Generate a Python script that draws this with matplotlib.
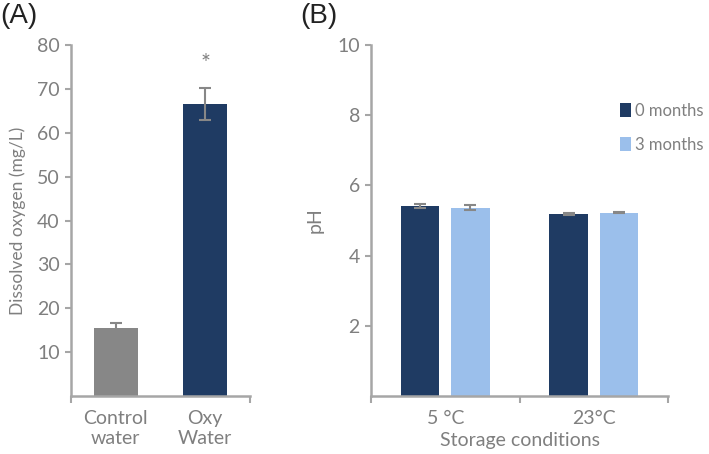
import numpy as np
import matplotlib
matplotlib.use("Agg")
import matplotlib.pyplot as plt
from matplotlib.patches import Patch

plt.rcParams["font.family"] = ["Lato", "DejaVu Sans"]

# panel A
A_LABELS = ["Control\nwater", "Oxy\nWater"]
A_VALUES = [15.5, 66.6]
A_ERRORS = [1.1, 3.6]

# panel B
B_LABELS = ["5 °C", "23°C"]
B_SERIES = ["0 months", "3 months"]
B_VALUES = [[5.42, 5.19], [5.37, 5.22]]
B_ERRORS = [[0.06, 0.02], [0.08, 0.02]]

TXT = "#7f7f7f"
AXC = "#a6a6a6"
DARK = "#1f3b63"
LIGHT = "#9bbfeb"
GREY = "#878787"
FS = 14


def style(ax):
    for s in ("top", "right"):
        ax.spines[s].set_visible(False)
    for s in ("left", "bottom"):
        ax.spines[s].set_color(AXC)
        ax.spines[s].set_linewidth(1.8)
    ax.tick_params(axis="y", colors=AXC, labelcolor=TXT, labelsize=FS,
                   length=4, width=1.5, direction="out", pad=4)
    ax.tick_params(axis="x", which="major", length=0, labelcolor=TXT, labelsize=FS, pad=10)
    ax.tick_params(axis="x", which="minor", colors=AXC, length=5, width=1.5, direction="out")


fig = plt.figure(figsize=(7.09, 4.54), dpi=100)

axA = fig.add_axes([71 / 709, 58 / 454, 179 / 709, 351 / 454])
x = np.arange(len(A_LABELS))
axA.bar(x, A_VALUES, 0.49, color=[GREY, DARK],
        yerr=A_ERRORS, ecolor=GREY, capsize=4, error_kw={"elinewidth": 1.5, "capthick": 1.5})
axA.text(x[1], A_VALUES[1] + A_ERRORS[1] + 5.5, "*", ha="center", va="center",
         color=TXT, fontsize=17)
axA.set_xlim(-0.5, len(A_LABELS) - 0.5)
axA.set_ylim(0, 80)
axA.set_yticks(np.arange(10, 81, 10))
axA.set_xticks(x)
axA.set_xticklabels(A_LABELS, linespacing=1.25)
axA.set_xticks([-0.5, len(A_LABELS) - 0.5], minor=True)
axA.set_ylabel("Dissolved oxygen (mg/L)", color=TXT, fontsize=12.5, labelpad=8)
style(axA)
fig.text(0.0, 0.965, "(A)", fontsize=20, color="#222222", va="center",
         family=["Liberation Sans", "DejaVu Sans"])

axB = fig.add_axes([371 / 709, 58 / 454, 297 / 709, 351 / 454])
xb = np.arange(len(B_LABELS))
w = 0.26
offs = [-0.17, 0.17]
for i, (name, col) in enumerate(zip(B_SERIES, [DARK, LIGHT])):
    axB.bar(xb + offs[i], B_VALUES[i], w, color=col, label=name,
            yerr=B_ERRORS[i], ecolor=GREY, capsize=4,
            error_kw={"elinewidth": 1.5, "capthick": 1.5})
axB.set_xlim(-0.5, len(B_LABELS) - 0.5)
axB.set_ylim(0, 10)
axB.set_yticks([2, 4, 6, 8, 10])
axB.set_xticks(xb)
axB.set_xticklabels(B_LABELS)
axB.set_xticks(np.arange(-0.5, len(B_LABELS), 1.0), minor=True)
axB.set_xlabel("Storage conditions", color=TXT, fontsize=FS, labelpad=4)
axB.set_ylabel("pH", color=TXT, fontsize=FS, labelpad=10)
style(axB)
handles = [Patch(facecolor=DARK, label=B_SERIES[0]), Patch(facecolor=LIGHT, label=B_SERIES[1])]
leg = axB.legend(handles=handles, loc="upper left", bbox_to_anchor=(0.815, 0.855),
                 frameon=False, fontsize=12, handlelength=0.7, handleheight=0.95,
                 handletextpad=0.2, labelspacing=1.1, borderaxespad=0)
for t in leg.get_texts():
    t.set_color(TXT)
fig.text(300 / 709, 0.965, "(B)", fontsize=20, color="#222222", va="center",
         family=["Liberation Sans", "DejaVu Sans"])

fig.savefig("out.png", dpi=100)
